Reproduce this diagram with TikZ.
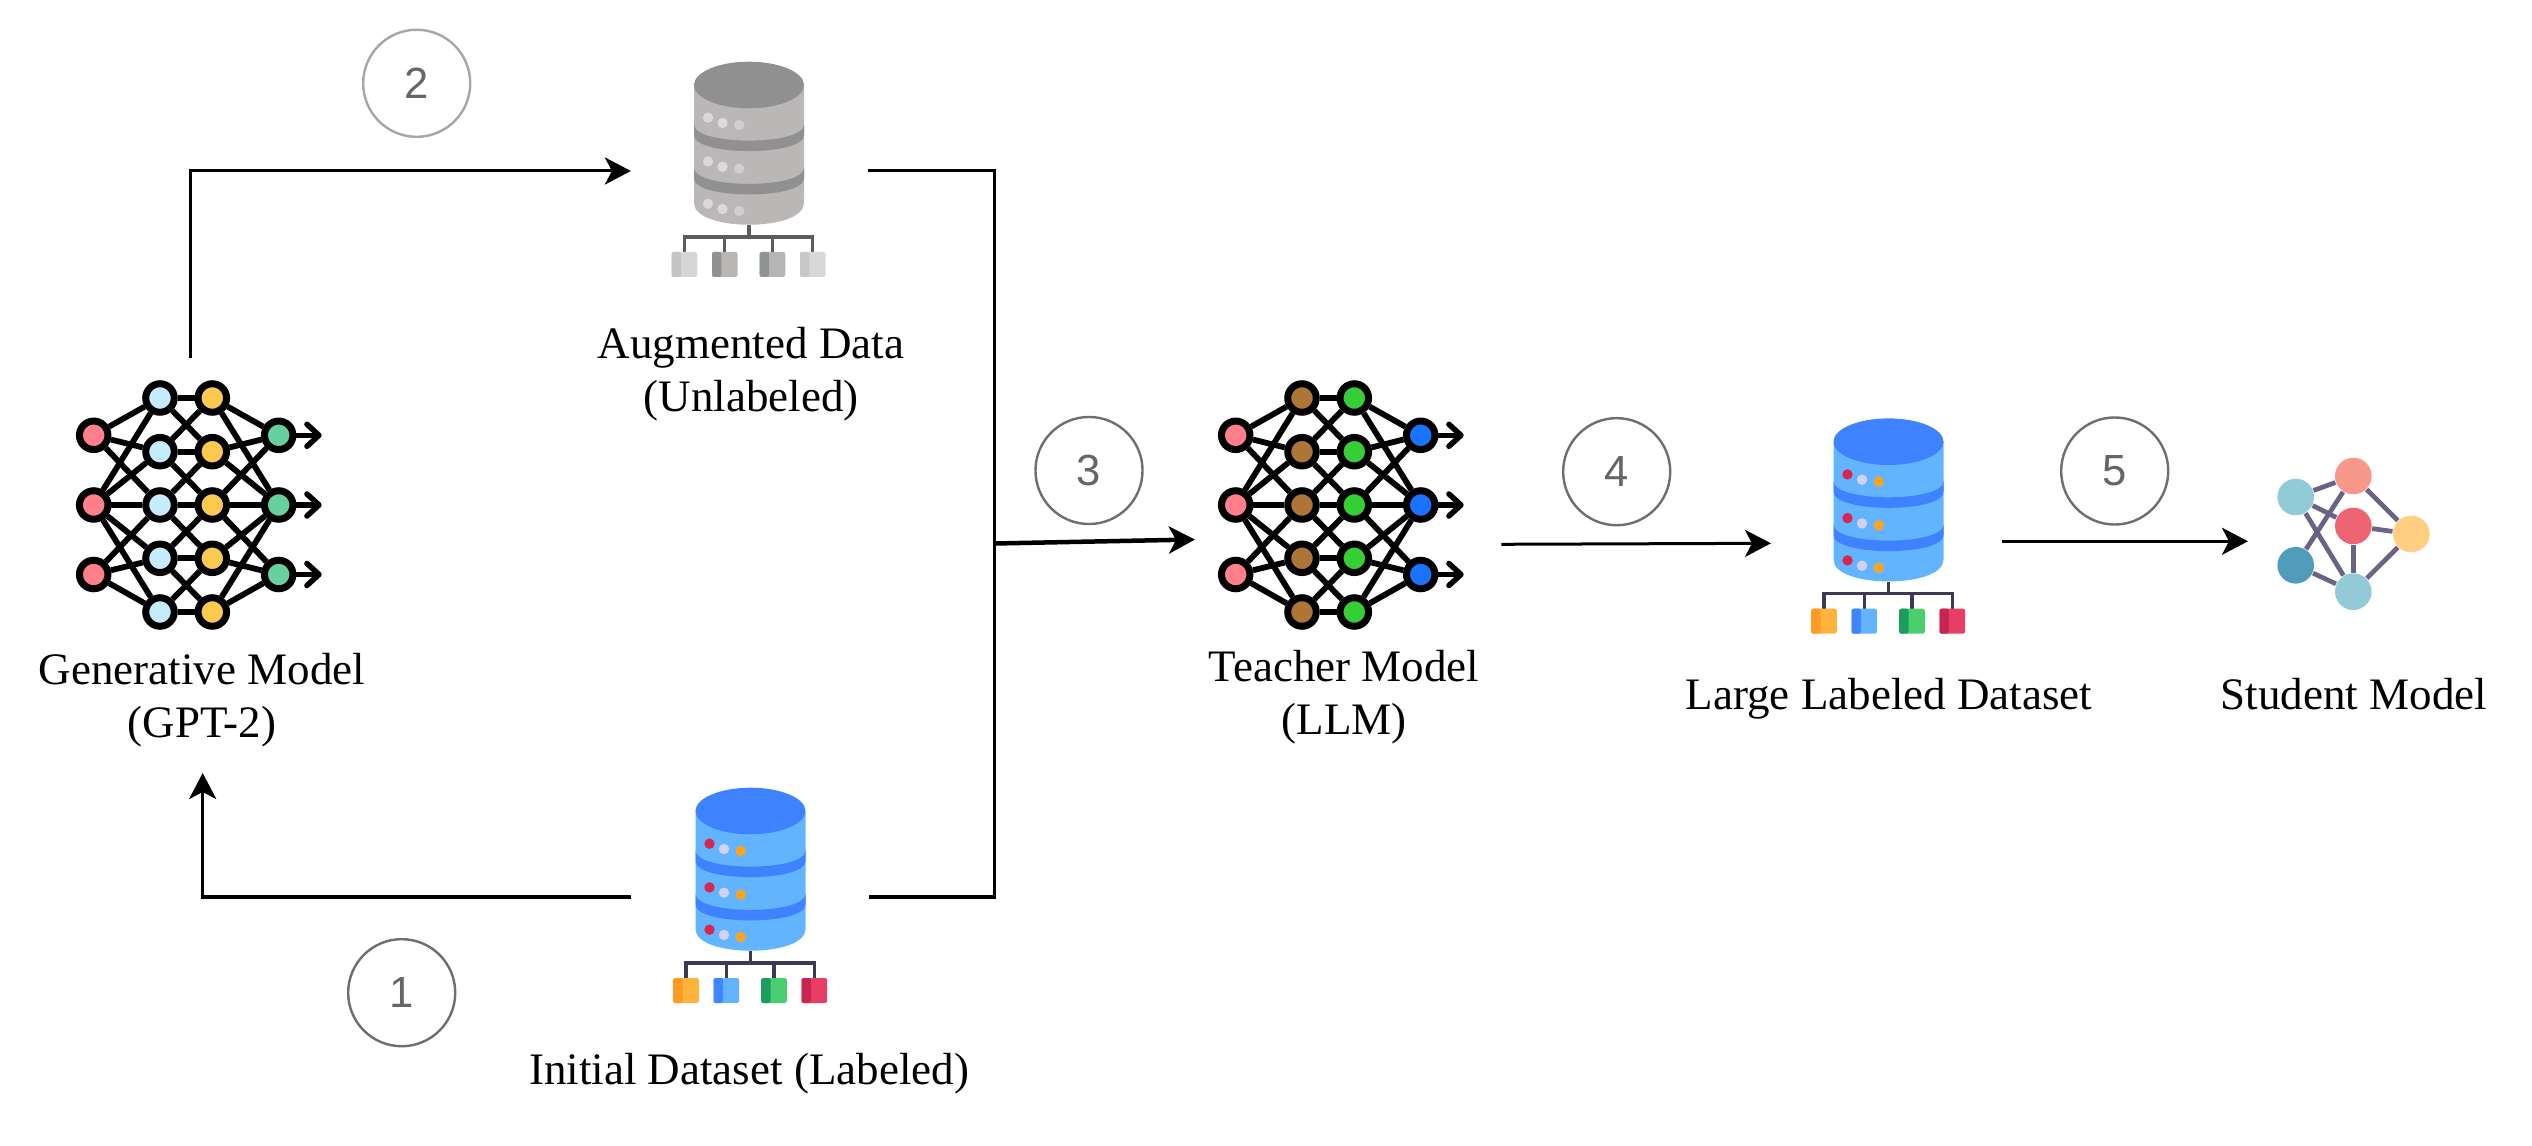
\documentclass[tikz,border=0pt]{standalone}
\usepackage{fontspec}
\setmainfont{Liberation Serif}
\newfontfamily\digitfont{Liberation Sans}
\usetikzlibrary{arrows.meta}

\definecolor{bluebody}{HTML}{62B4FF}
\definecolor{bluetop}{HTML}{3F82FF}
\definecolor{bluedota}{HTML}{D9254F}
\definecolor{bluedotb}{HTML}{D6D0F0}
\definecolor{bluedotc}{HTML}{FFA31F}
\definecolor{bluetree}{HTML}{3A3A55}
\definecolor{blueaL}{HTML}{FFB33C}\definecolor{blueaD}{HTML}{FF9A23}
\definecolor{bluebL}{HTML}{62B4FF}\definecolor{bluebD}{HTML}{4085FF}
\definecolor{bluecL}{HTML}{4BCE6E}\definecolor{bluecD}{HTML}{1A9E5E}
\definecolor{bluedL}{HTML}{E83E66}\definecolor{bluedD}{HTML}{C9264F}
\definecolor{graybody}{HTML}{BAB7B6}
\definecolor{graytop}{HTML}{909090}
\definecolor{graydota}{HTML}{D8D8D8}
\definecolor{graydotb}{HTML}{DADADA}
\definecolor{graydotc}{HTML}{CFCFCF}
\definecolor{graytree}{HTML}{5C5C5C}
\definecolor{grayaL}{HTML}{D6D6D6}\definecolor{grayaD}{HTML}{C4C4C4}
\definecolor{graybL}{HTML}{B9B6B5}\definecolor{graybD}{HTML}{919191}
\definecolor{graycL}{HTML}{B5B5B5}\definecolor{graycD}{HTML}{8F9493}
\definecolor{graydL}{HTML}{D8D8D8}\definecolor{graydD}{HTML}{C8C8C8}
\definecolor{netred}{HTML}{FF7F8A}
\definecolor{netsky}{HTML}{C5EBFD}
\definecolor{netamber}{HTML}{FBC94F}
\definecolor{netmint}{HTML}{66D19E}
\definecolor{netbrown}{HTML}{AD7637}
\definecolor{netgreen}{HTML}{35CE35}
\definecolor{netblue}{HTML}{1A73FF}
\definecolor{stedge}{HTML}{6A6384}
\definecolor{stteal}{HTML}{92CAD7}
\definecolor{stsalmon}{HTML}{F8988B}
\definecolor{stred}{HTML}{EF6473}
\definecolor{styellow}{HTML}{FFCE80}
\definecolor{stdeep}{HTML}{4F9CBB}

\tikzset{
	flow/.style={line width=.03cm, -{Stealth[length=.26cm,width=.27cm,inset=.07cm]}},
	link/.style={line width=.03cm},
	caption/.style={font=\fontsize{12.8}{15.1}\selectfont, align=center, anchor=base, inner sep=0},
	numcircle/.style={circle, draw=#1, line width=.024cm, minimum size=1.07cm, inner sep=0, text=black!60, font=\digitfont\fontsize{12.4}{14}\selectfont},
	iconbox/.style={inner sep=0, outer sep=0, minimum height=.6cm},
	netdot/.style={circle, draw=black, line width=.07cm, minimum size=.285cm, inner sep=0},
	netedge/.style={line width=.058cm},
	netarrow/.style={line width=.055cm, line cap=round, -{Straight Barb[length=.12cm,width=.22cm,line width=.055cm,round]}},
	stdot/.style={circle, minimum size=.366cm, inner sep=0, fill=#1},
	stline/.style={line width=.047cm, draw=stedge}
}

% database icon: {x}{y of top ellipse}{palette}
\newcommand{\drawdb}[3]{
	\begin{scope}[shift={(#1,#2)}]
		\fill[#3body] (-55,0) -- (-55,118) .. controls (-55,147) and (55,147) .. (55,118) -- (55,0) -- cycle;
		\foreach \dy in {0,43.3}{
			\fill[#3top] (-55,39.5+\dy) .. controls (-55,61+\dy) and (55,61+\dy) .. (55,39.5+\dy) -- (55,50+\dy) .. controls (55,71.5+\dy) and (-55,71.5+\dy) .. (-55,50+\dy) -- cycle;
		}
		\fill[#3top] (0,0) ellipse [x radius=55, y radius=23.3];
		\foreach \dy in {0,43.7,86}{
			\fill[#3dota] (-41,32.7+\dy) circle (5.2);
			\fill[#3dotb] (-26.5,38+\dy) circle (5.2);
			\fill[#3dotc] (-9.8,40+\dy) circle (5.2);
		}
		\draw[#3tree, line width=.035cm] (0,140) -- (0,152);
		\draw[#3tree, line width=.032cm] (-64.5,167) -- (-64.5,152) -- (63.8,152) -- (63.8,167);
		\foreach \sx/\sq in {-64.5/a,-24.2/b,23.5/c,63.8/d}{
			\draw[#3tree, line width=.032cm] (\sx,152) -- (\sx,167);
			\fill[#3\sq L, rounded corners=.6pt] (\sx-12.8,167) rectangle (\sx+12.8,192);
			\fill[#3\sq D, rounded corners=.6pt] (\sx-12.8,167) rectangle (\sx-3.5,192);
		}
	\end{scope}
}

% network icon: {name}{x of inputs}{y of middle row}{first hidden}{second hidden}{outputs}
\newcommand{\drawnet}[6]{
	\begin{scope}[shift={(#2,#3)}]
		\foreach \i/\yy in {1/-69.7,2/0,3/69.5}{
			\node[netdot, fill=netred] (#1i\i) at (0,\yy) {};
			\node[netdot, fill=#6] (#1o\i) at (185,\yy) {};
			\coordinate (#1t\i) at (228,\yy);
			\draw[netarrow] (#1o\i) -- (#1t\i);
		}
		\foreach \i/\yy in {1/-107,2/-53.3,3/0,4/53.3,5/107}{
			\node[netdot, fill=#4] (#1a\i) at (66.3,\yy) {};
			\node[netdot, fill=#5] (#1b\i) at (118.6,\yy) {};
		}
		\foreach \p/\q in {1/1,1/2,1/3,2/1,2/2,2/3,2/4,2/5,3/3,3/4,3/5}{
			\draw[netedge] (#1i\p) -- (#1a\q);
			\draw[netedge] (#1b\q) -- (#1o\p);
		}
		\foreach \p/\q in {1/1,2/2,3/3,4/4,5/5,1/2,2/1,2/3,3/2,3/4,4/3,4/5,5/4}{
			\draw[netedge] (#1a\p) -- (#1b\q);
		}
	\end{scope}
}

\begin{document}
\begin{tikzpicture}[x=.01cm, y=-.01cm]
	\useasboundingbox (0,0) rectangle (2532,1146);

	% icons
	\drawnet{gen}{93.7}{505}{netsky}{netamber}{netmint}
	\drawnet{tea}{1235.7}{505}{netbrown}{netgreen}{netblue}
	\drawdb{749}{85}{gray}
	\drawdb{750.5}{811}{blue}
	\drawdb{1888.5}{441.7}{blue}

	% student model
	\node[stdot=stteal] (sa) at (2295.7,497) {};
	\node[stdot=stsalmon] (sb) at (2353.3,476) {};
	\node[stdot=stred] (sc) at (2353.3,526) {};
	\node[stdot=styellow] (sd) at (2411.3,534) {};
	\node[stdot=stdeep] (se) at (2295.7,565.3) {};
	\node[stdot=stteal] (sf) at (2353.3,591.7) {};
	\foreach \p/\q in {sa/sb,sa/sc,sa/sf,sb/se,sb/sd,sc/sd,sc/sf,sd/sf,se/sf}{
		\draw[stline] (\p) -- (\q);
	}

	% invisible boxes that the arrows stop at
	\node[iconbox, minimum width=2.37cm] (augdata) at (749.5,171) {};
	\node[iconbox, minimum width=2.37cm] (initdata) at (750,897) {};
	\coordinate (genout) at (190.3,358);
	\coordinate (genin) at (202.7,773);
	\coordinate (merge) at (994.5,543.5);
	\coordinate (teain) at (1195,539.5);
	\coordinate (teaout) at (1501.4,544.3);
	\coordinate (largein) at (1771,543.3);
	\coordinate (largeout) at (2002.4,541.3);
	\coordinate (studentin) at (2248,541.3);

	% connectors
	\draw[flow] (genout) |- (augdata.west);
	\draw[flow] (initdata.west) -| (genin);
	\draw[link] (augdata.east) -| (merge) |- (initdata.east);
	\draw[flow, line width=.045cm] (merge) -- (teain);
	\draw[flow] (teaout) -- (largein);
	\draw[flow] (largeout) -- (studentin);

	% numbers
	\node[numcircle=black!35] (n2) at (416.7,83.3) {2};
	\node[numcircle=black!57] (n1) at (401.7,992.7) {1};
	\node[numcircle=black!57] (n3) at (1089,470.5) {3};
	\node[numcircle=black!57] (n4) at (1616.7,471.7) {4};
	\node[numcircle=black!57] (n5) at (2114.7,471) {5};

	% captions
	\node[caption] (gencap) at (202,738) {Generative Model\\(GPT-2)};
	\node[caption] (augcap) at (751,412) {Augmented Data\\(Unlabeled)};
	\node[caption] (initcap) at (749,1084) {Initial Dataset (Labeled)};
	\node[caption] (teacap) at (1344,735) {Teacher Model\\(LLM)};
	\node[caption] (largecap) at (1889,710) {Large Labeled Dataset};
	\node[caption] (stucap) at (2354,710) {Student Model};
\end{tikzpicture}
\end{document}
